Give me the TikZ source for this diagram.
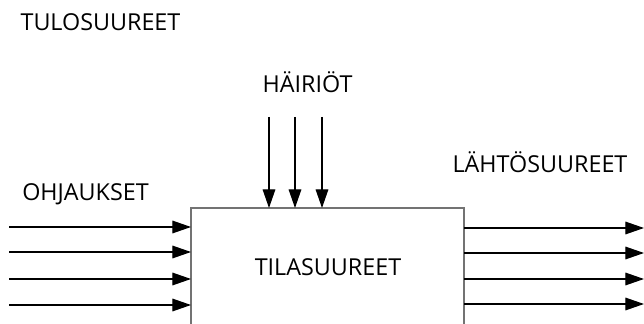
\documentclass[tikz,border=0pt]{standalone}
\usepackage{fontspec}
\setmainfont{Open Sans}
\usetikzlibrary{arrows.meta}
\begin{document}
\begin{tikzpicture}[x=0.75pt,y=-0.75pt,
  lbl/.style={font=\fontsize{17.5}{21}\selectfont, inner sep=0pt, anchor=base},
  sig/.style={line width=0.9pt, draw=black, -{Triangle[length=14pt,width=9.5pt]}}]
\useasboundingbox (0,0) rectangle (644,324);
\begin{scope}
\clip (0,0) rectangle (644,324);
\draw[draw=gray!90!black, line width=0.9pt] (191,340) coordinate (bl) |- (464,208) coordinate (tr) -- (464,340);
\end{scope}
\node[lbl] (tulo) at (100.5,31) {TULOSUUREET};
\node[lbl] (hairiot) at (307.5,93) {HÄIRIÖT};
\node[lbl] (lahto) at (540,173) {LÄHTÖSUUREET};
\node[lbl] (ohj) at (85.5,201) {OHJAUKSET};
\node[lbl] (tila) at (328,276) {TILASUUREET};
\foreach \y [count=\i] in {227,252,279,305} {
  \coordinate (li\i) at (9,\y);
  \coordinate (le\i) at (191,\y);
  \draw[sig] (li\i) -- (le\i);
}
\foreach \y [count=\i] in {228,253,279,304} {
  \coordinate (ri\i) at (464,\y);
  \coordinate (re\i) at (644,\y);
  \draw[sig] (ri\i) -- (re\i);
}
\foreach \x [count=\i] in {269,295,322} {
  \coordinate (ti\i) at (\x,117);
  \coordinate (te\i) at (\x,208);
  \draw[sig] (ti\i) -- (te\i);
}
\end{tikzpicture}
\end{document}
